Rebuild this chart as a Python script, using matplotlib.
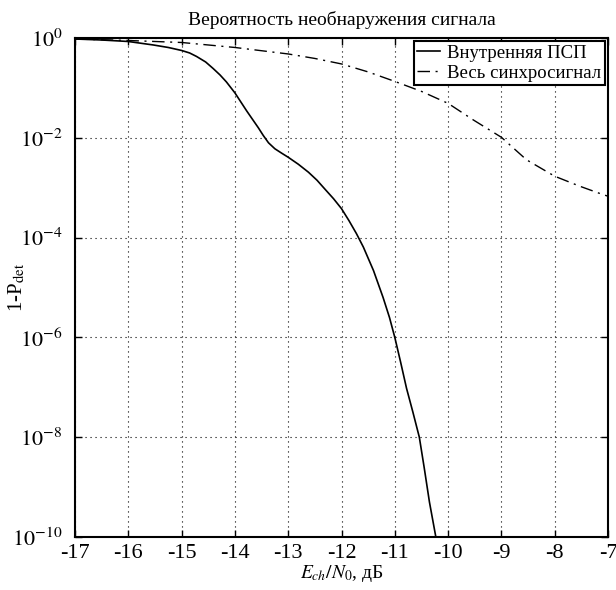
import matplotlib
matplotlib.use('Agg')
import matplotlib.pyplot as plt
import numpy as np

plt.rcParams['font.family'] = ['Liberation Serif', 'DejaVu Serif']
plt.rcParams['mathtext.fontset'] = 'stix'

# Внутренняя ПСП (сплошная), значения в log10
x_inner = [-17, -16.5, -16, -15.53, -15.25, -15, -14.85, -14.72, -14.55, -14.41,
           -14.28, -14.16, -14, -13.89, -13.78, -13.67, -13.56, -13.47, -13.37,
           -13.25, -13.12, -13, -12.81, -12.62, -12.46, -12.31, -12.15, -12,
           -11.86, -11.72, -11.59, -11.4, -11.22, -11.1, -11, -10.89, -10.78,
           -10.66, -10.54, -10.45, -10.35, -10.23, -10.1]
log_inner = [-0.02, -0.04, -0.07, -0.14, -0.19, -0.25, -0.3, -0.37, -0.48, -0.61,
             -0.74, -0.88, -1.1, -1.28, -1.46, -1.63, -1.8, -1.95, -2.1,
             -2.22, -2.31, -2.39, -2.53, -2.69, -2.85, -3.03, -3.22, -3.42,
             -3.66, -3.92, -4.19, -4.66, -5.2, -5.6, -6.0, -6.5, -7.02,
             -7.5, -8.0, -8.6, -9.3, -10.0, -10.8]

# Весь синхросигнал (штрихпунктир)
x_full = [-17, -16, -15, -14, -13, -12.5, -12, -11.5, -11, -10.5, -10, -9.53, -9,
          -8.53, -8, -7.53, -7.09, -7]
log_full = [-0.02, -0.05, -0.09, -0.19, -0.32, -0.41, -0.52, -0.68, -0.87, -1.07,
            -1.31, -1.64, -1.99, -2.44, -2.77, -2.97, -3.14, -3.17]

fig = plt.figure(figsize=(6.16, 5.90), dpi=100)
ax = fig.add_axes([0.1218, 0.0898, 0.8652, 0.8458])

ax.semilogy(x_inner, 10.0 ** np.array(log_inner), 'k-', lw=1.2, label='Внутренняя ПСП')
ax.semilogy(x_full, 10.0 ** np.array(log_full), 'k', lw=1.0, dashes=[9, 4, 1.5, 4],
            label='Весь синхросигнал')

ax.set_xlim(-17, -7)
ax.set_ylim(1e-10, 1)
ax.set_xticks(np.arange(-17, -6, 1))
ax.set_xticklabels(['%d' % v for v in range(-17, -6)])
yt = [10.0 ** (-k) for k in range(0, 11, 2)]
ax.set_yticks(yt)
ax.set_yticklabels(['$10^{%d}$' % (-k) if k else '$10^{0}$' for k in range(0, 11, 2)])
ax.minorticks_off()
ax.tick_params(direction='in', top=True, right=True, labelsize=16, length=5, width=1)
ax.tick_params(axis='x', pad=5)
ax.tick_params(axis='y', pad=9)
for s in ax.spines.values():
    s.set_linewidth(1.5)

ax.grid(True, which='major', linestyle=(0, (1, 3.5)), color='k', lw=0.8)

ax.set_title('Вероятность необнаружения сигнала', fontsize=14, pad=9)
ax.set_xlabel('$E_{ch}/N_0$, дБ', fontsize=14, labelpad=0)
ax.set_ylabel('1-P$_{\\rm det}$', fontsize=15)
ax.yaxis.set_label_coords(-0.09, 0.5)

leg = ax.legend(loc='upper right', fontsize=13.5, fancybox=False, framealpha=1,
                borderaxespad=0.15, handlelength=1.2, handletextpad=0.4,
                borderpad=0.2, labelspacing=0.15)
leg.get_frame().set_edgecolor('k')
leg.get_frame().set_linewidth(1.5)

fig.savefig('out.png', dpi=100)
